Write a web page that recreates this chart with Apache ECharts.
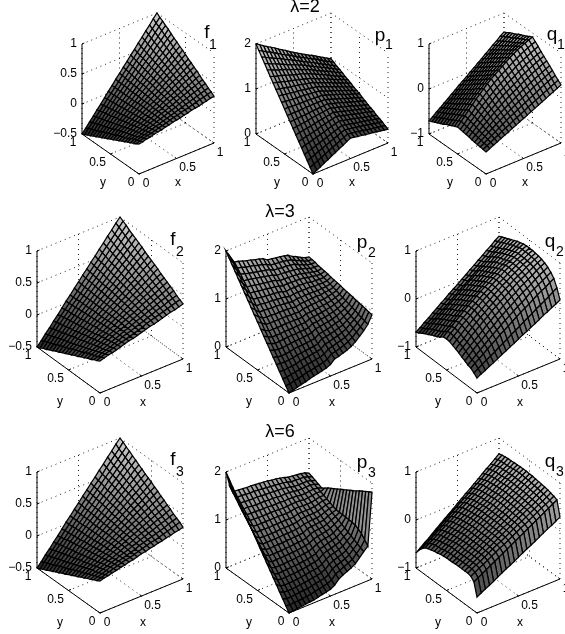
<!DOCTYPE html>
<html><head><meta charset="utf-8">
<style>html,body{margin:0;padding:0;background:#fff}#c{width:565px;height:634px}</style>
<script src="https://cdn.jsdelivr.net/npm/echarts@6/dist/echarts.min.js"></script></head>
<body><div id="c"></div>
<script>
// Heights are in hundredths of a z unit. Rows run y=0..1, columns x=0..1, in steps of 0.05.
const f1=[
[0,1,3,4,6,7,8,10,11,13,14,15,17,18,20,21,22,24,25,27,28],
[-3,-1,1,3,4,6,8,9,11,13,15,16,18,20,21,23,25,27,28,30,32],
[-5,-3,-1,1,3,5,7,9,11,13,15,17,19,21,23,25,27,29,31,33,35],
[-8,-5,-3,-1,2,4,6,9,11,13,16,18,20,23,25,27,30,32,34,37,39],
[-10,-7,-5,-2,0,3,6,8,11,14,16,19,21,24,27,29,32,35,37,40,42],
[-13,-10,-7,-4,-1,2,5,8,11,14,17,20,23,26,28,31,34,37,40,43,46],
[-15,-12,-9,-5,-2,1,4,8,11,14,17,21,24,27,30,33,37,40,43,46,50],
[-18,-14,-10,-7,-3,0,4,7,11,14,18,21,25,28,32,36,39,43,46,50,53],
[-20,-16,-12,-8,-5,-1,3,7,11,15,18,22,26,30,34,38,41,45,49,53,57],
[-23,-18,-14,-10,-6,-2,2,7,11,15,19,23,27,31,36,40,44,48,52,56,60],
[-25,-21,-16,-12,-7,-3,2,6,11,15,20,24,28,33,37,42,46,51,55,60,64],
[-28,-23,-18,-13,-8,-4,1,6,11,15,20,25,30,34,39,44,49,53,58,63,68],
[-30,-25,-20,-15,-10,-5,0,5,10,16,21,26,31,36,41,46,51,56,61,66,71],
[-33,-27,-22,-16,-11,-6,0,5,10,16,21,27,32,37,43,48,53,59,64,69,75],
[-35,-29,-24,-18,-12,-7,-1,5,10,16,22,27,33,39,44,50,56,61,67,73,78],
[-38,-32,-26,-20,-14,-8,-2,4,10,16,22,28,34,40,46,52,58,64,70,76,82],
[-40,-34,-27,-21,-15,-9,-2,4,10,17,23,29,35,42,48,54,60,67,73,79,86],
[-43,-36,-29,-23,-16,-10,-3,4,10,17,23,30,37,43,50,56,63,69,76,83,89],
[-45,-38,-31,-24,-17,-11,-4,3,10,17,24,31,38,45,51,58,65,72,79,86,93],
[-48,-40,-33,-26,-19,-12,-4,3,10,17,25,32,39,46,53,60,68,75,82,89,96],
[-50,-43,-35,-28,-20,-13,-5,3,10,18,25,33,40,48,55,63,70,78,85,93,100]];
const f2=[
[0,2,4,5,7,9,11,13,14,16,18,20,22,23,25,27,29,31,32,34,36],
[-3,0,2,4,6,8,10,12,14,16,18,20,23,25,27,29,31,33,35,37,39],
[-5,-3,0,2,4,7,9,12,14,16,19,21,23,26,28,31,33,35,38,40,42],
[-8,-5,-2,0,3,6,8,11,14,16,19,22,24,27,30,32,35,38,40,43,46],
[-10,-7,-4,-1,2,5,8,11,14,16,19,22,25,28,31,34,37,40,43,46,49],
[-13,-9,-6,-3,0,4,7,10,13,17,20,23,26,29,33,36,39,42,46,49,52],
[-15,-11,-8,-4,-1,3,6,10,13,17,20,24,27,31,34,38,41,45,48,52,55],
[-18,-14,-10,-6,-2,2,5,9,13,17,20,24,28,32,36,39,43,47,51,55,58],
[-20,-16,-12,-8,-4,0,4,9,13,17,21,25,29,33,37,41,45,49,53,58,62],
[-23,-18,-14,-9,-5,-1,4,8,12,17,21,26,30,34,39,43,47,52,56,60,65],
[-25,-20,-16,-11,-6,-2,3,8,12,17,22,26,31,35,40,45,49,54,59,63,68],
[-28,-23,-18,-13,-8,-3,2,7,12,17,22,27,32,37,42,47,51,56,61,66,71],
[-30,-25,-20,-14,-9,-4,1,7,12,17,22,27,33,38,43,48,54,59,64,69,74],
[-33,-27,-22,-16,-11,-5,1,6,12,17,23,28,34,39,45,50,56,61,67,72,78],
[-35,-29,-23,-18,-12,-6,-1,6,11,17,23,29,34,40,46,52,58,63,69,75,81],
[-38,-31,-25,-19,-13,-7,-1,5,11,17,23,29,35,41,48,54,60,66,72,78,84],
[-40,-34,-27,-21,-15,-8,-2,5,11,17,24,30,36,43,49,55,62,68,74,81,87],
[-43,-36,-29,-23,-16,-9,-3,4,11,17,24,31,37,44,51,57,64,70,77,84,90],
[-45,-38,-31,-24,-17,-10,-3,4,10,17,24,31,38,45,52,59,66,73,80,87,94],
[-48,-40,-33,-26,-19,-11,-4,3,10,17,25,32,39,46,53,61,68,75,82,90,97],
[-50,-43,-35,-28,-20,-13,-5,3,10,18,25,33,40,48,55,63,70,78,85,93,100]];
const f3=[
[0,2,3,5,6,8,9,11,12,14,16,17,19,20,22,23,25,26,28,29,31],
[-3,-1,1,3,5,7,9,11,12,14,16,18,20,22,23,25,27,29,31,33,35],
[-5,-3,-1,1,4,6,8,10,12,14,16,19,21,23,25,27,29,31,34,36,38],
[-8,-5,-3,0,2,5,7,10,12,14,17,19,22,24,27,29,32,34,36,39,41],
[-10,-7,-5,-2,1,4,6,9,12,15,17,20,23,26,28,31,34,37,39,42,45],
[-13,-9,-6,-3,0,3,6,9,12,15,18,21,24,27,30,33,36,39,42,45,48],
[-15,-12,-8,-5,-2,2,5,8,12,15,18,22,25,28,32,35,38,42,45,48,52],
[-18,-14,-10,-7,-3,1,4,8,12,15,19,22,26,30,33,37,41,44,48,51,55],
[-20,-16,-12,-8,-4,0,4,8,11,15,19,23,27,31,35,39,43,47,51,55,59],
[-23,-18,-14,-10,-6,-1,3,7,11,16,20,24,28,32,37,41,45,49,54,58,62],
[-25,-20,-16,-11,-7,-2,2,7,11,16,20,25,29,34,38,43,47,52,56,61,66],
[-28,-23,-18,-13,-8,-3,1,6,11,16,21,26,30,35,40,45,50,54,59,64,69],
[-30,-25,-20,-15,-10,-4,1,6,11,16,21,26,31,37,42,47,52,57,62,67,72],
[-33,-27,-22,-16,-11,-5,0,5,11,16,22,27,33,38,43,49,54,60,65,71,76],
[-35,-29,-24,-18,-12,-6,-1,5,11,16,22,28,34,39,45,51,56,62,68,74,79],
[-38,-31,-25,-19,-13,-7,-2,5,11,17,23,29,35,41,47,53,59,65,71,77,83],
[-40,-34,-27,-21,-15,-8,-2,4,10,17,23,29,36,42,48,55,61,67,74,80,86],
[-43,-36,-29,-23,-16,-9,-3,4,10,17,24,30,37,43,50,57,63,70,76,83,90],
[-45,-38,-31,-24,-17,-11,-4,3,10,17,24,31,38,45,52,59,65,72,79,86,93],
[-48,-40,-33,-26,-19,-12,-4,3,10,17,25,32,39,46,53,60,68,75,82,89,97],
[-50,-43,-35,-28,-20,-13,-5,3,10,18,25,33,40,48,55,63,70,78,85,93,100]];
const p1=[
[0,5,9,14,18,23,27,32,36,41,45,44,42,41,39,38,37,35,34,32,31],
[10,14,18,22,26,30,34,38,42,46,50,48,47,45,44,42,40,39,37,36,34],
[20,24,27,31,34,38,41,45,48,52,55,53,52,50,48,47,45,43,41,40,38],
[30,33,36,39,42,45,48,51,54,57,60,58,56,54,52,51,49,47,45,43,41],
[40,43,45,48,50,53,55,58,60,63,65,63,61,59,57,55,52,50,48,46,44],
[50,52,54,56,58,60,63,65,67,69,71,69,66,64,62,59,57,55,53,50,48],
[60,62,63,65,66,68,70,71,73,74,76,73,71,68,66,63,61,58,56,53,51],
[70,71,72,73,74,76,77,78,79,80,81,78,76,73,70,68,65,62,59,57,54],
[80,81,81,82,82,83,84,84,85,85,86,83,80,78,75,72,69,66,64,61,58],
[90,90,90,90,90,91,91,91,91,91,91,88,85,82,79,76,73,70,67,64,61],
[100,100,99,99,98,98,98,97,97,96,96,93,90,87,84,81,77,74,71,68,65],
[110,109,108,107,106,106,105,104,103,102,101,98,94,91,88,85,81,78,75,71,68],
[120,119,117,116,114,113,112,110,109,107,106,103,99,96,92,89,85,82,78,75,71],
[130,128,126,124,122,121,119,117,115,113,111,107,104,100,97,93,89,86,82,79,75],
[140,138,135,133,130,128,126,123,121,118,116,112,108,105,101,97,93,89,86,82,78],
[150,147,144,142,139,136,133,130,128,125,122,118,114,110,106,102,97,93,89,85,81],
[160,157,153,150,147,144,140,137,134,130,127,123,119,114,110,106,102,98,93,89,85],
[170,166,162,159,155,151,147,143,140,136,132,128,123,119,114,110,106,101,97,92,88],
[180,176,171,167,163,159,154,150,146,141,137,132,128,123,119,114,109,105,100,96,91],
[190,185,180,176,171,166,161,156,152,147,142,137,133,128,123,119,114,109,104,100,95],
[200,195,189,184,179,174,168,163,158,152,147,142,137,132,127,123,118,113,108,103,98]];
const p2=[
[0,2,5,7,9,12,14,16,18,20,24,32,34,37,40,44,50,58,66,76,92],
[10,11,13,15,17,20,21,23,25,27,30,38,39,42,45,49,54,62,69,78,93],
[20,20,22,23,25,27,29,30,32,33,36,43,45,48,50,53,58,65,72,80,95],
[30,29,30,31,32,35,36,37,39,40,42,49,50,53,55,58,62,69,75,82,96],
[40,39,38,39,40,42,43,44,45,46,48,55,56,58,60,63,66,72,77,85,97],
[50,48,46,47,48,50,51,51,52,53,54,60,61,63,65,68,70,75,80,87,98],
[60,57,55,55,56,57,58,58,59,60,61,66,67,69,70,72,75,79,83,89,100],
[70,66,63,63,64,65,65,65,66,66,67,72,72,74,75,77,79,82,86,91,101],
[80,75,71,71,71,72,72,72,73,73,73,77,78,79,80,82,83,86,89,93,102],
[90,84,79,79,79,79,80,79,80,79,79,83,83,84,85,86,87,89,92,95,103],
[100,94,88,87,87,87,87,87,86,86,85,88,89,90,90,91,91,93,95,98,105],
[110,103,96,95,95,94,94,94,93,93,91,94,94,95,95,96,95,97,97,100,106],
[120,112,104,104,103,102,102,101,100,99,97,100,99,100,100,100,99,100,100,102,107],
[130,121,112,112,110,110,109,108,107,106,103,105,105,105,105,105,103,104,103,104,108],
[140,130,121,120,118,117,116,115,114,112,109,111,110,111,110,110,107,107,106,106,110],
[150,139,129,128,126,125,124,122,121,119,116,117,116,116,115,115,112,111,109,108,111],
[160,148,137,136,134,132,131,129,128,126,122,122,121,121,120,119,116,114,112,110,112],
[170,158,145,144,142,140,138,136,134,132,128,128,127,126,125,124,120,118,114,113,113],
[180,167,154,152,149,147,145,143,141,139,134,134,132,132,130,129,124,121,117,115,115],
[190,176,162,160,157,155,153,150,148,145,140,139,138,137,135,133,128,125,120,117,116],
[200,185,170,168,165,162,160,157,155,152,146,145,143,142,140,138,132,128,123,119,117]];
const p3=[
[0,1,2,3,4,5,6,8,10,12,14,19,28,33,37,41,46,55,64,72,181],
[10,9,10,10,11,12,13,15,17,19,21,25,34,38,42,46,50,59,67,80,177],
[20,17,17,18,19,20,20,22,24,26,27,31,40,44,47,50,55,63,71,88,173],
[30,26,25,25,26,27,28,29,31,32,34,38,45,49,52,55,59,67,74,93,169],
[40,34,32,33,33,34,35,36,38,39,40,44,51,55,57,60,64,71,78,97,165],
[50,42,40,40,41,41,42,43,44,46,47,50,57,60,62,65,68,75,81,98,160],
[60,50,47,48,48,49,49,50,51,52,54,56,63,65,68,70,73,79,85,99,156],
[70,58,55,55,55,56,56,57,58,59,60,63,68,71,73,74,77,83,88,99,152],
[80,67,62,63,63,63,64,64,65,66,67,69,74,76,78,79,82,87,92,100,148],
[90,75,70,70,70,70,71,71,72,73,73,75,80,82,83,84,86,91,95,100,144],
[100,83,78,77,78,78,78,79,79,80,80,81,86,87,88,89,90,95,98,101,140],
[110,91,85,85,85,85,85,86,86,86,87,88,91,92,93,93,95,98,102,103,136],
[120,99,93,92,92,92,92,93,93,93,93,94,97,98,98,98,99,102,105,106,132],
[130,108,100,100,100,99,100,100,100,100,100,100,103,103,103,103,104,106,109,109,128],
[140,116,108,107,107,107,107,107,107,107,106,107,109,109,108,108,108,110,112,112,124],
[150,124,115,115,114,114,114,114,114,113,113,113,114,114,114,112,113,114,116,115,119],
[160,132,123,122,122,121,121,121,120,120,120,119,120,119,119,117,117,118,119,118,115],
[170,140,130,130,129,128,128,128,127,127,126,125,126,125,124,122,122,122,123,121,118],
[180,149,138,137,136,136,136,135,134,134,133,132,132,130,129,126,126,126,126,124,121],
[190,157,145,145,144,143,143,142,141,140,139,138,137,136,134,131,131,130,130,127,124],
[200,165,153,152,151,150,150,149,148,147,146,144,143,141,139,136,135,134,133,131,127]];
const q1=[
[-51,-47,-43,-39,-35,-31,-27,-23,-19,-15,-11,-7,-3,1,5,9,13,17,21,25,29],
[-50,-45,-41,-36,-32,-27,-23,-19,-14,-10,-6,-2,3,7,11,15,19,23,27,31,35],
[-49,-44,-39,-34,-29,-24,-19,-14,-9,-5,0,4,8,13,17,21,26,30,34,38,41],
[-48,-42,-37,-31,-26,-20,-15,-10,-5,0,5,10,14,19,23,28,32,36,40,44,48],
[-47,-41,-35,-29,-23,-17,-11,-5,0,5,10,15,20,25,29,34,38,42,46,50,54],
[-46,-39,-33,-26,-20,-13,-7,-1,5,11,16,21,26,31,36,40,45,49,53,57,60],
[-44,-37,-30,-23,-16,-9,-3,3,10,16,21,26,31,36,42,46,51,55,59,63,66],
[-43,-36,-28,-21,-13,-6,1,8,15,21,26,32,37,42,48,52,57,61,65,69,72],
[-42,-34,-26,-18,-10,-2,5,12,19,26,31,37,43,48,54,59,63,67,71,75,79],
[-41,-33,-24,-16,-7,1,9,17,24,31,37,43,48,54,60,65,70,74,78,82,85],
[-40,-31,-22,-13,-4,5,13,21,29,36,42,48,54,60,66,71,76,80,84,88,91],
[-43,-34,-26,-17,-8,1,9,16,24,31,37,43,49,55,61,67,72,76,80,84,88],
[-46,-38,-29,-21,-12,-4,4,12,19,26,32,38,44,51,57,62,67,72,76,81,84],
[-49,-41,-33,-25,-16,-8,0,7,15,21,27,34,40,46,52,58,63,68,72,77,81],
[-52,-45,-36,-29,-20,-13,-5,2,10,16,22,29,35,41,47,53,58,64,68,74,78],
[-56,-48,-40,-33,-25,-17,-10,-3,5,12,18,24,30,37,43,49,54,60,65,70,75],
[-59,-51,-44,-36,-29,-21,-14,-7,0,7,13,19,25,32,38,44,50,55,61,66,71],
[-62,-55,-47,-40,-33,-26,-19,-12,-5,2,8,14,20,27,33,40,45,51,57,63,68],
[-65,-58,-51,-44,-37,-30,-23,-16,-9,-3,3,10,16,22,28,35,41,47,53,59,65],
[-68,-62,-54,-48,-41,-35,-28,-21,-14,-8,-2,5,11,18,24,30,36,43,49,56,61],
[-71,-65,-58,-52,-45,-39,-32,-26,-19,-13,-7,0,6,13,19,26,32,39,45,52,58]];
const q2=[
[-69,-64,-60,-55,-51,-46,-41,-37,-32,-28,-23,-18,-14,-9,-5,0,5,9,14,18,23],
[-63,-58,-52,-47,-42,-37,-31,-26,-21,-15,-10,-5,1,6,11,17,22,27,32,38,43],
[-58,-51,-45,-39,-32,-26,-20,-13,-8,-2,4,10,16,21,26,32,38,43,47,53,58],
[-56,-49,-42,-35,-28,-21,-14,-8,-1,5,11,17,23,28,34,41,46,51,56,61,66],
[-52,-45,-37,-29,-23,-16,-9,-3,5,11,17,23,29,35,41,46,51,57,63,67,72],
[-49,-41,-33,-26,-19,-12,-4,2,9,15,22,28,34,39,46,51,56,61,67,72,76],
[-45,-37,-30,-21,-14,-7,0,6,14,20,26,32,38,44,50,55,60,65,70,75,79],
[-42,-34,-27,-19,-11,-4,3,9,16,22,29,35,41,46,52,57,62,68,72,77,81],
[-39,-31,-24,-16,-9,-2,5,11,18,24,31,37,43,48,54,59,64,69,73,78,82],
[-36,-28,-21,-13,-6,1,8,14,21,27,33,38,44,49,55,60,65,70,74,79,83],
[-35,-27,-20,-12,-5,1,8,14,21,27,33,39,45,50,56,61,65,70,74,79,83],
[-36,-28,-21,-13,-6,1,8,14,21,27,33,38,44,49,55,60,65,70,74,79,83],
[-41,-33,-26,-19,-11,-4,3,9,16,22,29,35,41,46,52,57,62,68,73,78,82],
[-45,-38,-29,-22,-16,-9,-1,5,12,18,25,31,37,42,49,54,59,65,70,75,80],
[-48,-41,-33,-26,-19,-12,-5,1,8,15,21,27,34,39,45,52,57,62,67,73,78],
[-51,-44,-36,-29,-23,-15,-9,-2,4,11,17,23,30,35,41,48,54,59,64,70,75],
[-55,-48,-41,-34,-27,-20,-14,-7,0,6,13,19,25,32,37,43,50,55,60,67,72],
[-58,-51,-44,-37,-31,-24,-17,-11,-4,2,9,15,21,28,33,39,46,52,57,64,69],
[-62,-56,-49,-43,-36,-30,-24,-17,-11,-4,2,8,15,21,28,34,40,47,53,60,66],
[-66,-60,-53,-47,-40,-34,-27,-21,-14,-8,-2,5,11,18,24,31,37,44,50,57,63],
[-69,-63,-56,-50,-43,-37,-30,-24,-17,-11,-5,2,8,15,21,28,34,41,47,54,60]];
const q3=[
[-67,-62,-57,-53,-48,-43,-38,-33,-29,-24,-19,-14,-9,-5,0,5,10,15,19,24,29],
[-40,-35,-30,-25,-20,-15,-10,-5,0,5,10,15,20,25,30,35,40,45,50,55,60],
[-33,-28,-23,-19,-14,-9,-4,1,5,10,15,20,25,29,34,39,44,49,53,58,63],
[-31,-26,-21,-17,-12,-7,-2,3,7,12,17,22,27,31,36,41,46,51,55,60,65],
[-31,-26,-21,-16,-11,-7,-2,3,8,13,18,23,28,33,38,43,47,52,57,62,67],
[-31,-26,-21,-16,-11,-6,-1,4,9,14,19,23,28,33,38,43,48,53,58,63,68],
[-31,-26,-21,-16,-11,-6,-1,4,9,14,19,24,29,34,39,44,49,54,59,64,69],
[-31,-26,-21,-16,-11,-6,-1,4,9,14,20,25,30,35,40,45,50,55,60,65,70],
[-32,-27,-22,-17,-11,-6,-1,4,9,14,20,25,30,35,40,45,50,56,61,66,71],
[-32,-27,-22,-16,-11,-6,-1,4,10,15,20,25,30,36,41,46,51,56,62,67,72],
[-32,-27,-22,-16,-11,-6,-1,4,10,15,20,25,30,36,41,46,51,56,62,67,72],
[-33,-28,-22,-17,-12,-6,-1,4,9,15,20,25,31,36,41,47,52,57,62,68,73],
[-34,-29,-23,-18,-13,-7,-2,3,9,14,20,25,30,36,41,46,52,57,62,68,73],
[-36,-31,-25,-20,-14,-9,-3,2,8,13,19,24,29,35,40,46,51,57,62,68,73],
[-37,-32,-26,-21,-15,-10,-4,1,7,12,18,23,28,34,39,45,50,56,61,67,72],
[-39,-33,-28,-22,-17,-11,-6,0,5,11,17,22,28,33,39,44,50,55,61,66,72],
[-41,-35,-30,-24,-19,-13,-7,-2,4,9,15,21,26,32,37,43,49,54,60,65,71],
[-44,-38,-33,-27,-21,-15,-10,-4,2,8,14,19,25,31,37,42,48,54,60,65,71],
[-50,-44,-38,-32,-26,-20,-14,-8,-2,4,10,16,22,28,34,40,46,52,58,64,70],
[-58,-52,-45,-39,-33,-26,-20,-14,-7,-1,6,12,18,25,31,37,44,50,56,63,69],
[-69,-62,-55,-49,-42,-35,-28,-21,-15,-8,-1,6,13,19,26,33,40,47,53,60,67]];

const zTicksF=[-0.5,0,0.5,1];
const zTicksP=[0,1,2];
const zTicksQ=[-1,0,1];
const groundTicks=[0,0.5,1];
const titles=['λ=2','λ=3','λ=6'];

// Layout of the nine panels: plot-box pixels
const rows=[
 {Ax:75,Bx:31,By:40,Z:90,bottom:174,titleX:305,titleY:7,xl:[1.5,24.5],yl:[-7.5,28.5]},
 {Ax:83,Bx:34,By:46,Z:96,bottom:393,titleX:280,titleY:212,xl:[1.5,27],yl:[-8.5,32]},
 {Ax:83,Bx:34,By:45,Z:96,bottom:613,titleX:280,titleY:432,xl:[1.5,27],yl:[-8.5,32]}];
const panels=[
 {d:f1,z:zTicksF,r:0,left:82,Ay:57,n:'f',s:'1',n1:[207,33],s1:[213,45]},
 {d:p1,z:zTicksP,r:0,left:256,Ay:57,n:'p',s:'1',n1:[380,36],s1:[389,45]},
 {d:q1,z:zTicksQ,r:0,left:429,Ay:57,n:'q',s:'1',n1:[552,35],s1:[561,45]},
 {d:f2,z:zTicksF,r:1,left:37,Ay:63,n:'f',s:'2',n1:[173,240],s1:[180,252]},
 {d:p2,z:zTicksP,r:1,left:226,Ay:63,n:'p',s:'2',n1:[362,243],s1:[372,253]},
 {d:q2,z:zTicksQ,r:1,left:416,Ay:61,n:'q',s:'2',n1:[550,242],s1:[560,252]},
 {d:f3,z:zTicksF,r:2,left:37,Ay:63,n:'f',s:'3',n1:[173,460],s1:[180,472]},
 {d:p3,z:zTicksP,r:2,left:226,Ay:63,n:'p',s:'3',n1:[362,463],s1:[372,473]},
 {d:q3,z:zTicksQ,r:2,left:416,Ay:61,n:'q',s:'3',n1:[550,462],s1:[560,472]}];
const FONT='"Liberation Sans",Arial,sans-serif';

const grid=[],xAxis=[],yAxis=[],series=[],graphic=[];
const fmt=v=>v<0?'\u2212'+(-v):String(v);

panels.forEach((P,k)=>{
  const R=rows[P.r],W=R.Ax+P.Ay,H=R.Bx+R.By+R.Z,zmin=P.z[0],zmax=P.z[P.z.length-1];
  grid.push({left:P.left,top:R.bottom-H,width:W,height:H,show:false});
  const hidden={type:'value',min:0,max:1,show:false};
  xAxis.push({...hidden,gridIndex:k});yAxis.push({...hidden,gridIndex:k});
  const pt=(api,x,y,z)=>api.coord([(x*R.Ax+(1-y)*P.Ay)/W,(x*R.Bx+y*R.By+(z-zmin)/(zmax-zmin)*R.Z)/H]);
  const base={type:'custom',xAxisIndex:k,yAxisIndex:k,animation:false,silent:true,clip:false,progressive:0};

  // dotted back walls and floor
  const dots=[];
  P.z.forEach(z=>{dots.push([0,1,z,1,1,z],[1,1,z,1,0,z]);});
  groundTicks.forEach(t=>{
    dots.push([t,0,zmin,t,1,zmin],[t,1,zmin,t,1,zmax]);
    dots.push([0,t,zmin,1,t,zmin],[1,t,zmin,1,t,zmax]);
  });
  series.push({...base,z:1,data:dots,dimensions:['a','b','c','d','e','f'],
    renderItem:(p,api)=>{const s=dots[p.dataIndex],A=pt(api,s[0],s[1],s[2]),B=pt(api,s[3],s[4],s[5]);
      return {type:'line',shape:{x1:A[0],y1:A[1],x2:B[0],y2:B[1]},style:{stroke:'#222',lineWidth:1,lineDash:[1,4]}};}});

  // solid axes with ticks
  const solid=[[0,1,zmin,0,1,zmax],[0,0,zmin,0,1,zmin],[0,0,zmin,1,0,zmin]];
  P.z.forEach(z=>solid.push([0,1,z,0.03,1,z]));
  groundTicks.forEach(t=>{solid.push([t,0,zmin,t,0.03,zmin],[0,t,zmin,0.03,t,zmin]);});
  series.push({...base,z:2,data:solid,dimensions:['a','b','c','d','e','f'],
    renderItem:(p,api)=>{const s=solid[p.dataIndex],A=pt(api,s[0],s[1],s[2]),B=pt(api,s[3],s[4],s[5]);
      return {type:'line',shape:{x1:A[0],y1:A[1],x2:B[0],y2:B[1]},style:{stroke:'#000',lineWidth:1}};}});

  // surface cells, painted from the far corner to the near corner
  const cells=[];const n=P.d.length-1;
  for(let j=n-1;j>=0;j--)for(let i=n-1;i>=0;i--)cells.push([i,j]);
  series.push({...base,z:3,data:cells,dimensions:['i','j'],
    renderItem:(p,api)=>{
      const [i,j]=cells[p.dataIndex],c=[[i,j],[i+1,j],[i+1,j+1],[i,j+1]];
      let sum=0;
      const pts=c.map(([a,b])=>{const zv=P.d[b][a]/100;sum+=zv;return pt(api,a/n,b/n,zv);});
      const t=(sum/4-zmin)/(zmax-zmin),g=Math.round(255*Math.min(1,0.15+0.65*t));
      return {type:'polygon',shape:{points:pts},style:{fill:`rgb(${g},${g},${g})`,stroke:'#000',lineWidth:1.25}};
    }});

  // tick and axis labels
  const labels=[];
  P.z.forEach(z=>labels.push({t:fmt(z),x:0,y:1,z:z,dx:-5,dy:0,al:'right'}));
  groundTicks.forEach(t=>{
    const mid=t===0.5;
    labels.push({t:String(t),x:t,y:0,z:zmin,dx:mid?11:(t===0?7:6),dy:9.5,al:'center'});
    labels.push({t:String(t),x:0,y:t,z:zmin,dx:mid?-13:(t===0?-8:-9),dy:9,al:'center'});
  });
  labels.push({t:'x',x:0.5,y:0,z:zmin,dx:R.xl[0],dy:R.xl[1],al:'center'});
  labels.push({t:'y',x:0,y:0.5,z:zmin,dx:R.yl[0],dy:R.yl[1],al:'center'});
  series.push({...base,z:4,data:labels.map((_,q)=>[q]),dimensions:['q'],
    renderItem:(p,api)=>{const L=labels[p.dataIndex],A=pt(api,L.x,L.y,L.z);
      return {type:'text',x:A[0]+L.dx,y:A[1]+L.dy,style:{text:L.t,fill:'#000',font:'12px '+FONT,align:L.al,verticalAlign:'middle'}};}});

  graphic.push({type:'text',x:P.n1[0],y:P.n1[1],style:{text:P.n,fill:'#000',font:'19px '+FONT,align:'center',verticalAlign:'middle'}});
  graphic.push({type:'text',x:P.s1[0],y:P.s1[1],style:{text:P.s,fill:'#000',font:'14px '+FONT,align:'center',verticalAlign:'middle'}});
});
rows.forEach((R,k)=>graphic.push({type:'text',x:R.titleX,y:R.titleY,style:{text:titles[k],fill:'#000',font:'18px '+FONT,align:'center',verticalAlign:'middle'}}));

const chart=echarts.init(document.getElementById('c'),null,{renderer:'canvas'});
chart.setOption({animation:false,backgroundColor:'#fff',grid,xAxis,yAxis,series,graphic});
</script></body></html>
